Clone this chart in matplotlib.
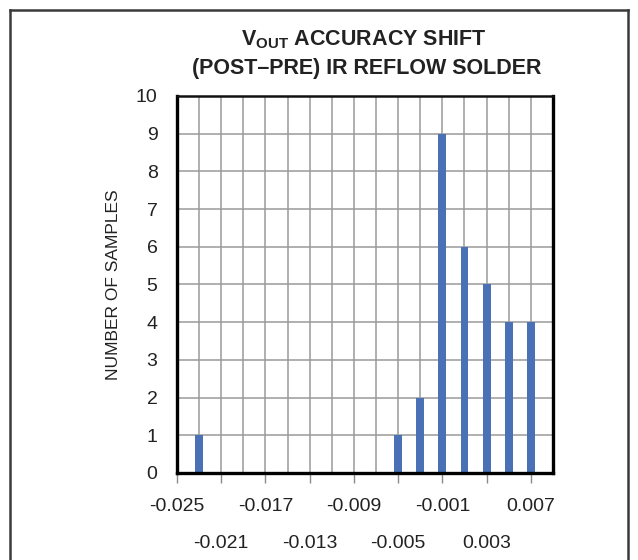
import matplotlib.pyplot as plt
from matplotlib.lines import Line2D

# histogram bins (VOUT shift) and counts
shift = [-0.023, -0.021, -0.019, -0.017, -0.015, -0.013, -0.011, -0.009,
         -0.007, -0.005, -0.003, -0.001, 0.001, 0.003, 0.005, 0.007]
counts = [1, 0, 0, 0, 0, 0, 0, 0, 0, 1, 2, 9, 6, 5, 4, 4]

top_labels = [-0.025, -0.017, -0.009, -0.001, 0.007]
bottom_labels = [-0.021, -0.013, -0.005, 0.003]
grid_x = [-0.023, -0.021, -0.019, -0.017, -0.015, -0.013, -0.011, -0.009,
          -0.007, -0.005, -0.003, -0.001, 0.001, 0.003, 0.005, 0.007]

plt.rcParams['font.family'] = ['Liberation Sans', 'DejaVu Sans']
plt.rcParams['mathtext.fontset'] = 'custom'
plt.rcParams['mathtext.rm'] = 'Liberation Sans:bold'
plt.rcParams['mathtext.it'] = 'Liberation Sans:bold'
plt.rcParams['mathtext.bf'] = 'Liberation Sans:bold'

txt = '#222222'
fig = plt.figure(figsize=(6.38, 5.6), dpi=100)
ax = fig.add_axes([0.2774, 0.1554, 0.5893, 0.6732])

# grid lines
for g in grid_x:
    ax.axvline(g, color='#9a9a9a', lw=1.1, zorder=0)
for yy in range(1, 10):
    ax.axhline(yy, color='#9a9a9a', lw=1.1, zorder=0)

ax.bar(shift, counts, width=0.00072, color='#4a71b6', zorder=2)

ax.set_xlim(-0.025, 0.009)
ax.set_ylim(0, 10)

ax.set_xticks(top_labels)
ax.set_xticklabels(['%.3f' % v for v in top_labels])
ax.set_xticks(bottom_labels, minor=True)
ax.set_xticklabels(['%.3f' % v for v in bottom_labels], minor=True)
ax.tick_params(axis='x', which='both', length=7, width=1, color='#8a8a8a',
               labelsize=14, labelcolor=txt)
ax.tick_params(axis='x', which='major', pad=11)
ax.tick_params(axis='x', which='minor', pad=38)

ax.set_yticks(range(0, 11))
ax.tick_params(axis='y', length=0, pad=14, labelsize=14, labelcolor=txt)

for s in ['left', 'bottom', 'right']:
    ax.spines[s].set_linewidth(2.4)
    ax.spines[s].set_color('black')
ax.spines['top'].set_linewidth(1.8)
ax.spines['top'].set_color('#111111')

ax.set_ylabel('NUMBER OF SAMPLES', fontsize=12.5, color=txt, labelpad=11)

fig.text(0.571, 0.929, r'V$_{\mathrm{OUT}}$ ACCURACY SHIFT', ha='center', va='center',
         fontsize=15.5, fontweight='bold', color=txt)
fig.text(0.574, 0.877, '(POST\u2013PRE) IR REFLOW SOLDER', ha='center', va='center',
         fontsize=15.5, fontweight='bold', color=txt)

# outer frame (open at bottom)
fx0, fx1, fy = 10 / 638, 628 / 638, 1 - 10 / 560
for xs, ys in [([fx0, fx0], [0, fy]), ([fx0, fx1], [fy, fy]), ([fx1, fx1], [fy, 0])]:
    fig.add_artist(Line2D(xs, ys, color='#3a3a3a', lw=1.8))

fig.savefig('out.png', dpi=100)
